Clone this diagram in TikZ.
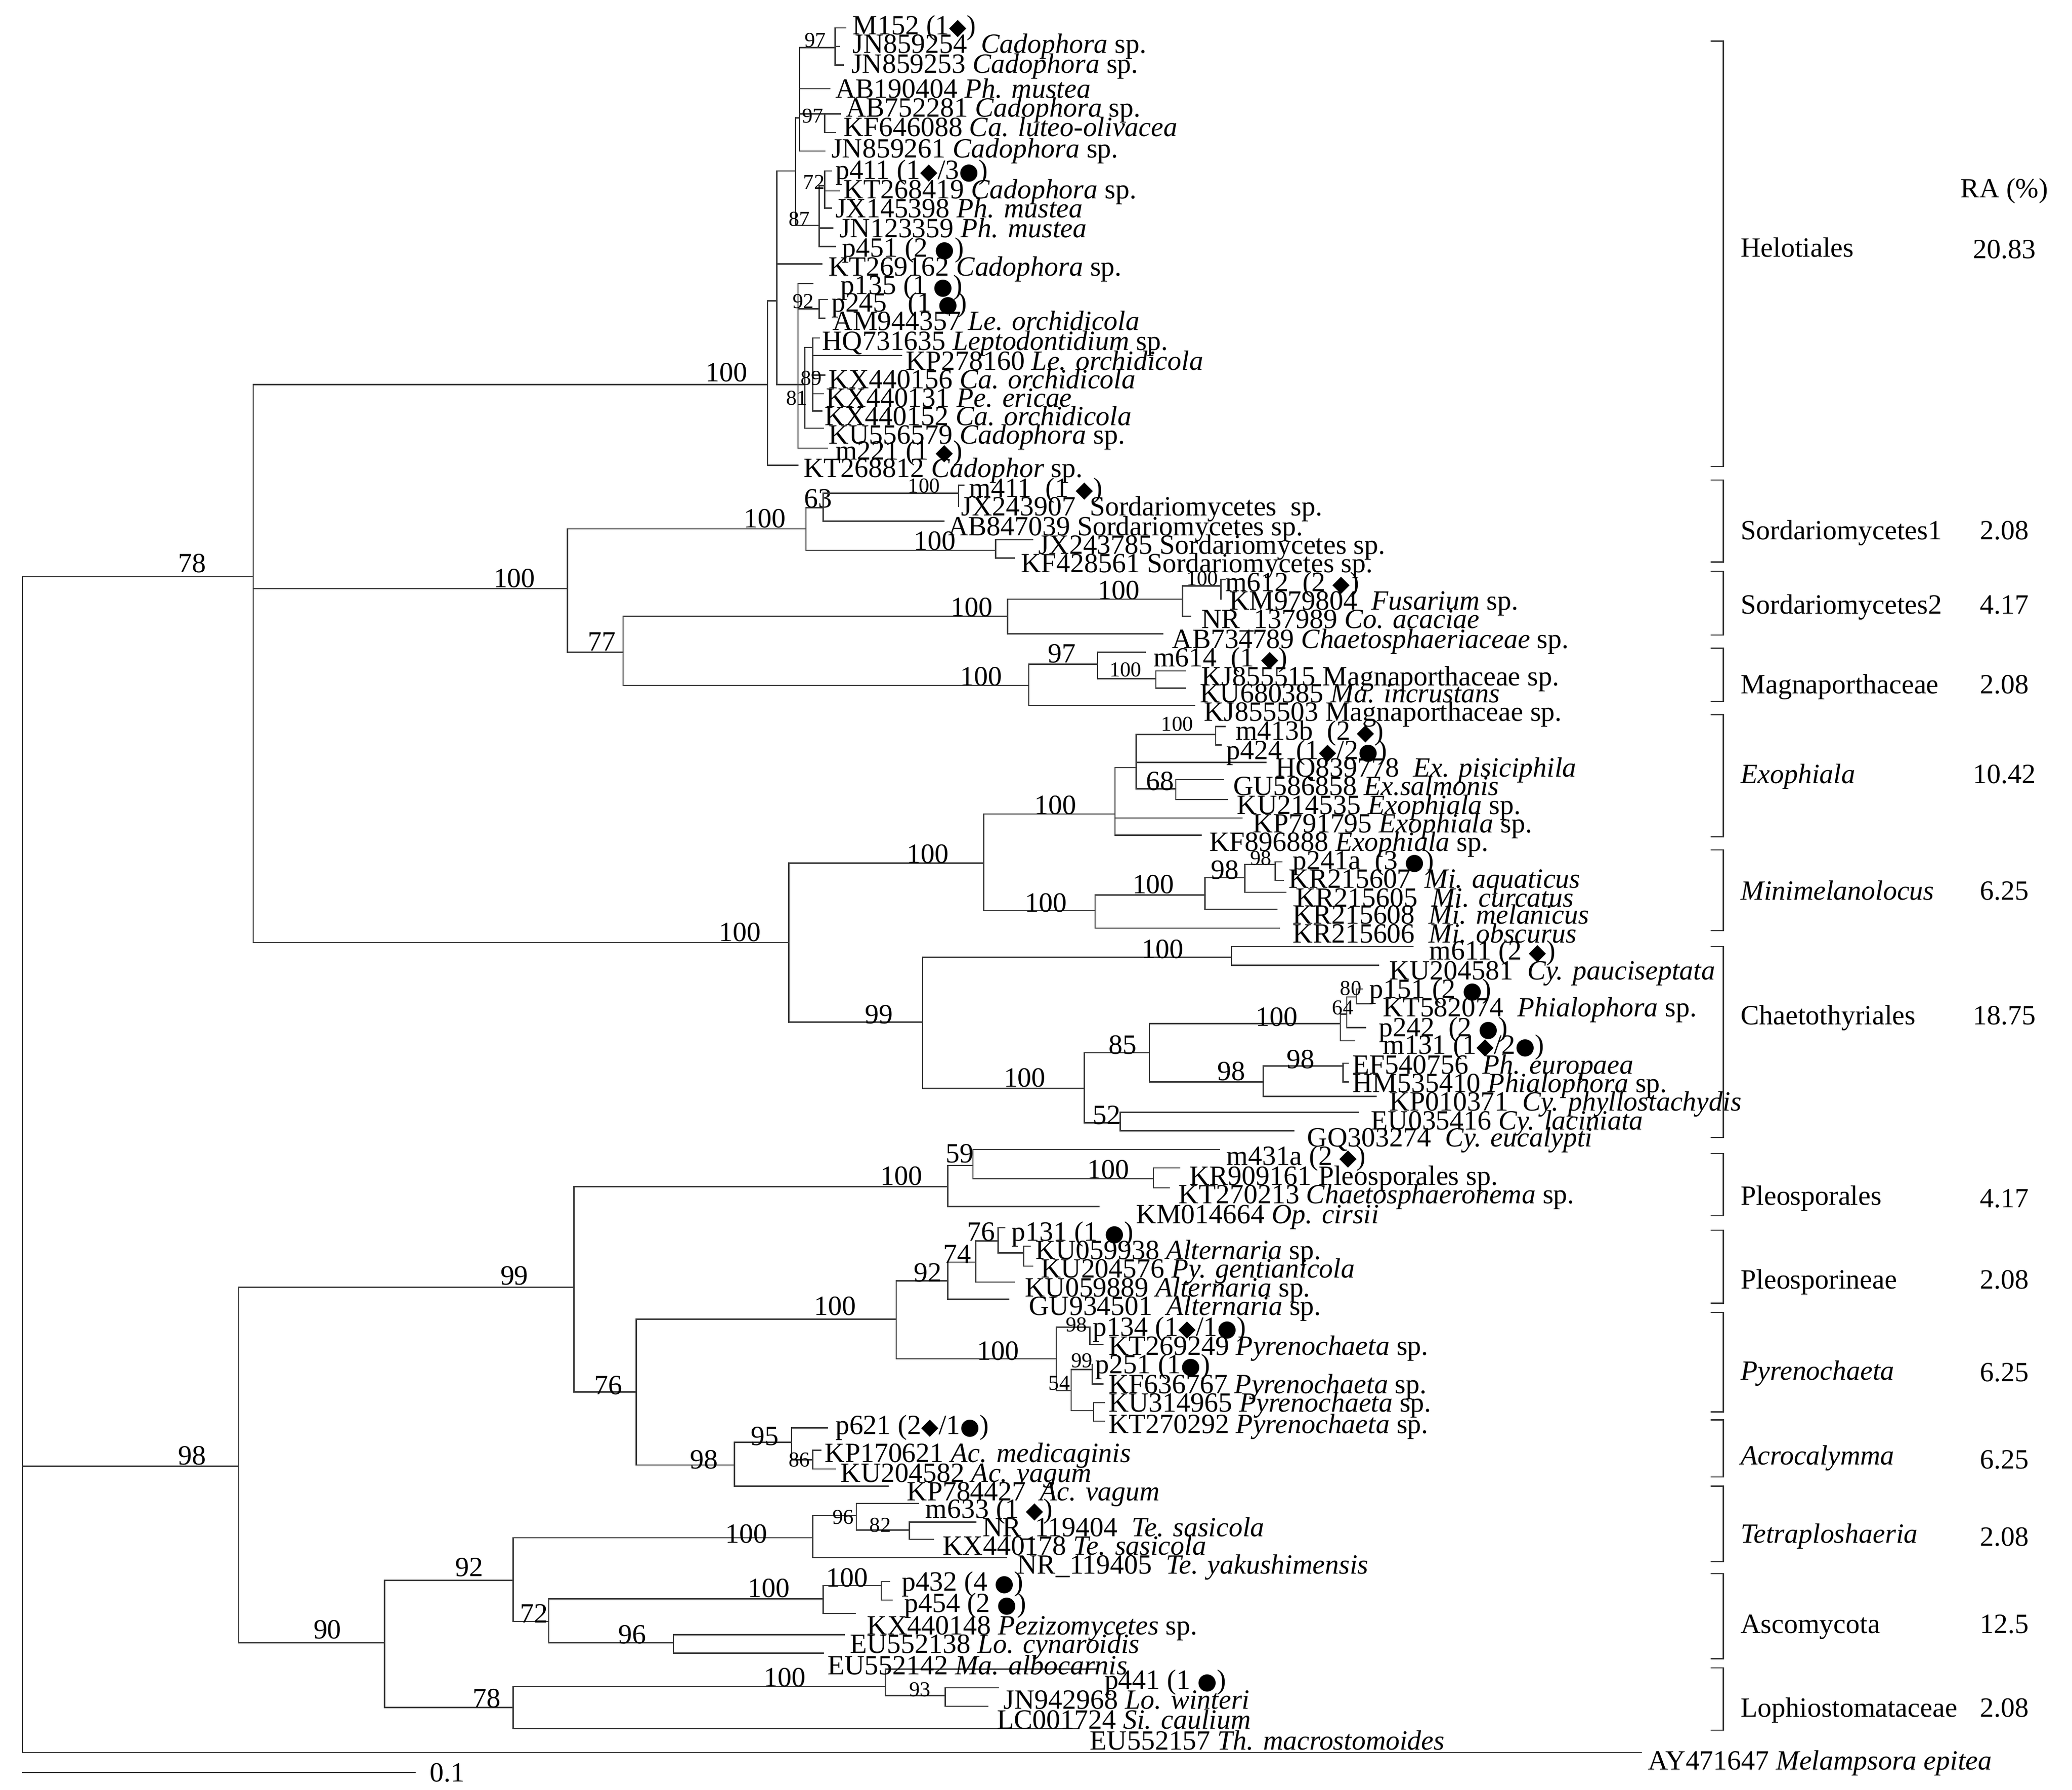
\documentclass[tikz,border=0pt]{standalone}
\usepackage{fontspec}
\setmainfont{Liberation Serif}
\newfontfamily\symf{DejaVu Sans}
\newcommand\fsz{\fontsize{21}{25}\selectfont}
\newcommand\fsm{\fontsize{16}{19}\selectfont}
\newcommand\mydm{{\symf\fontsize{17}{17}\selectfont ◆}}
\newcommand\mycc{{\symf\fontsize{17}{17}\selectfont ●}}
\tikzset{
  br/.style={draw=black!78, line width=0.95pt, line cap=rect},
  tip/.style={anchor=base west, inner sep=0pt, font=\fsz},
  bsn/.style={anchor=base, inner sep=0pt, font=\fsz},
  bsm/.style={anchor=base, inner sep=0pt, font=\fsm},
  grp/.style={anchor=base west, inner sep=0pt, font=\fsz},
  rav/.style={anchor=base, inner sep=0pt, font=\fsz},
}
\newcommand{\hb}[3]{\draw[br] (#1,#3) -- (#2,#3);}
\newcommand{\vb}[3]{\draw[br] (#1,#2) -- (#1,#3);}
\newcommand{\tl}[3]{\node[tip] at (#1,#2+7) {#3};}
\newcommand{\bs}[3]{\node[bsn] at (#1,#2+7) {#3};}
\newcommand{\bsx}[3]{\node[bsm] at (#1,#2+5.5) {#3};}
\newcommand{\brk}[2]{\draw[br] (1291,#1) -- (1300,#1) -- (1300,#2) -- (1291,#2);}
\begin{document}
\begin{tikzpicture}[x=1pt,y=-1pt]
\useasboundingbox[fill=white] (0,0) rectangle (1563,1350);
% ---------- root ----------
\vb{17}{435}{1322}
\hb{17}{191}{435} \bs{145}{425}{78}
\vb{191}{290}{711}
\hb{191}{579}{290} \bs{548}{281}{100}
\hb{191}{428}{444} \bs{388}{436}{100}
\hb{191}{595}{711} \bs{558}{703}{100}
% ---------- Helotiales ----------
\vb{579}{227}{351}
\hb{579}{586}{227}
\hb{579}{602}{351}
\vb{586}{129}{290}
\hb{586}{600}{129}
\hb{586}{620}{199}
\hb{586}{602}{290}
\vb{600}{89}{170}
\hb{600}{603}{89}
\hb{600}{618}{170} \bsx{603}{165}{87}
\vb{603}{36}{114}
\hb{603}{630}{36} \bsx{615}{30}{97}
\vb{630}{21}{49}
\hb{630}{638}{21} \hb{630}{633}{35} \hb{630}{636}{49}
\hb{603}{626}{67}
\hb{603}{634}{86} \bsx{613}{87}{97}
\vb{622}{86}{100} \hb{622}{630}{100}
\hb{603}{622}{114}
\vb{618}{140}{186}
\hb{618}{622}{140} \bsx{614}{137}{72}
\vb{622}{129}{157}
\hb{622}{627}{129} \hb{622}{633}{144} \hb{622}{627}{157}
\hb{618}{628}{172}
\hb{618}{630}{186}
\vb{602}{214}{338}
\hb{602}{613}{214}
\hb{602}{618}{233} \bsx{606}{227}{92}
\vb{618}{226}{240} \hb{618}{624}{226} \hb{618}{622}{240}
\hb{602}{607}{290}
\vb{607}{262}{323}
\hb{607}{613}{262}
\vb{613}{255}{310}
\hb{613}{618}{255} \hb{613}{680}{268} \hb{613}{622}{283} \hb{613}{621}{297} \hb{613}{620}{310}
\bsx{612}{285}{89} \bsx{601}{300}{81}
\hb{607}{621}{323}
\hb{602}{624}{338}
% ---------- Sordariomycetes / Magnaporthaceae ----------
\vb{428}{399}{492}
\hb{428}{608}{399} \bs{577}{391}{100}
\vb{608}{383}{415}
\hb{608}{621}{383} \bs{617}{376}{63}
\vb{621}{372}{393}
\hb{621}{723}{372} \bsx{697}{366}{100}
\vb{723}{366}{382} \hb{723}{727}{366}
\hb{621}{712}{393}
\hb{608}{751}{415} \bs{705}{408}{100}
\vb{751}{407}{421}
\hb{751}{779}{407} \hb{751}{765}{421}
\hb{428}{470}{492} \bs{454}{484}{77}
\vb{470}{465}{517}
\hb{470}{760}{465} \bs{733}{458}{100}
\vb{760}{452}{478}
\hb{760}{892}{452} \bs{844}{445}{100}
\vb{892}{442}{465}
\hb{892}{921}{442} \bsx{907}{436}{100}
\vb{921}{437}{452} \hb{921}{924}{437}
\hb{892}{898}{465}
\hb{760}{877}{478}
\hb{470}{776}{517} \bs{740}{510}{100}
\vb{776}{501}{532}
\hb{776}{828}{501} \bs{801}{493}{97}
\vb{828}{492}{512}
\hb{828}{864}{492}
\hb{828}{872}{512} \bsx{849}{505}{100}
\vb{872}{506}{519}
\hb{872}{894}{506} \hb{872}{894}{519}
\hb{776}{901}{532}
% ---------- Exophiala / Minimelanolocus / Chaetothyriales ----------
\vb{595}{651}{771}
\hb{595}{742}{651} \bs{700}{644}{100}
\vb{742}{614}{687}
\hb{742}{841}{614} \bs{796}{607}{100}
\vb{841}{579}{630}
\hb{841}{857}{579}
\vb{857}{554}{595}
\hb{857}{917}{554} \bsx{888}{546}{100}
\vb{917}{548}{562} \hb{917}{924}{548} \hb{917}{921}{562}
\hb{857}{955}{575}
\hb{857}{887}{595} \bs{875}{589}{68}
\vb{887}{588}{603}
\hb{887}{923}{588} \hb{887}{926}{603}
\hb{841}{937}{617}
\hb{841}{906}{630}
\hb{742}{826}{687} \bs{789}{681}{100}
\vb{826}{675}{700}
\hb{826}{909}{675} \bs{870}{667}{100}
\vb{909}{662}{686}
\hb{909}{939}{662} \bs{924}{656}{98}
\vb{939}{652}{673}
\hb{939}{962}{652} \bsx{951}{647}{98}
\vb{962}{650}{664} \hb{962}{967}{650} \hb{962}{968}{664}
\hb{939}{970}{673}
\hb{909}{963}{686}
\hb{826}{965}{700}
\hb{595}{696}{771} \bs{663}{765}{99}
\vb{696}{722}{821}
\hb{696}{929}{722} \bs{877}{716}{100}
\vb{929}{714}{728}
\hb{929}{1066}{714} \hb{929}{1040}{728}
\hb{696}{818}{821} \bs{773}{813}{100}
\vb{818}{794}{847}
\hb{818}{867}{794} \bs{847}{788}{85}
\vb{867}{772}{816}
\hb{867}{1011}{772} \bs{963}{767}{100}
\vb{1011}{765}{785}
\hb{1011}{1016}{765}
\vb{1016}{752}{775} \bsx{1013}{760}{64}
\hb{1016}{1023}{752}
\vb{1023}{746}{757} \bsx{1019}{745}{80}
\hb{1023}{1028}{746} \hb{1023}{1035}{757}
\hb{1016}{1030}{775}
\hb{1011}{1022}{785}
\hb{867}{953}{816} \bs{929}{808}{98}
\vb{953}{804}{827}
\hb{953}{1013}{804} \bs{981}{799}{98}
\vb{1013}{802}{816} \hb{1013}{1017}{802} \hb{1013}{1017}{816}
\hb{953}{1038}{827}
\hb{818}{845}{847} \bs{835}{841}{52}
\vb{845}{839}{853}
\hb{845}{1025}{839} \hb{845}{976}{853}
% ---------- lower clade ----------
\hb{17}{180}{1106} \bs{145}{1098}{98}
\vb{180}{971}{1239}
\hb{180}{433}{971} \bs{388}{962}{99}
\vb{433}{895}{1050}
\hb{433}{715}{895} \bs{680}{887}{100}
\vb{715}{879}{910}
\hb{715}{734}{879} \bs{724}{870}{59}
\vb{734}{867}{889}
\hb{734}{920}{867}
\hb{734}{870}{889} \bs{836}{882}{100}
\vb{870}{881}{896}
\hb{870}{890}{881} \hb{870}{882}{896}
\hb{715}{829}{910}
\hb{433}{480}{1050} \bs{459}{1045}{76}
\vb{480}{995}{1105}
\hb{480}{676}{995} \bs{630}{985}{100}
\vb{676}{966}{1025}
\hb{676}{715}{966} \bs{700}{960}{92}
\vb{715}{952}{980}
\hb{715}{736}{952} \bs{722}{946}{74}
\vb{736}{936}{967}
\hb{736}{753}{936} \bs{740}{929}{76}
\vb{753}{926}{945}
\hb{753}{758}{926}
\hb{753}{772}{945}
\vb{772}{940}{955} \hb{772}{777}{940} \hb{772}{779}{955}
\hb{736}{765}{967}
\hb{715}{761}{980}
\hb{676}{797}{1025} \bs{753}{1019}{100}
\vb{797}{1001}{1049}
\hb{797}{822}{1001} \bsx{812}{999}{98}
\vb{822}{1001}{1014} \hb{822}{832}{1014}
\hb{797}{808}{1049} \bsx{799}{1043}{54}
\vb{808}{1033}{1064}
\hb{808}{824}{1033} \bsx{816}{1026}{99}
\vb{824}{1029}{1044} \hb{824}{832}{1044}
\hb{808}{825}{1064}
\vb{825}{1058}{1072} \hb{825}{833}{1058} \hb{825}{833}{1072}
\hb{480}{554}{1105} \bs{531}{1101}{98}
\vb{554}{1088}{1121}
\hb{554}{597}{1088} \bs{577}{1083}{95}
\vb{597}{1077}{1101}
\hb{597}{624}{1077}
\hb{597}{613}{1101} \bsx{603}{1101}{86}
\vb{613}{1094}{1108} \hb{613}{619}{1094} \hb{613}{630}{1108}
\hb{554}{670}{1121}
\hb{180}{290}{1239} \bs{247}{1229}{90}
\vb{290}{1192}{1288}
\hb{290}{387}{1192} \bs{354}{1182}{92}
\vb{387}{1160}{1223}
\hb{387}{613}{1160} \bs{563}{1157}{100}
\vb{613}{1143}{1175}
\hb{613}{646}{1143} \bsx{636}{1144}{96}
\vb{646}{1134}{1154}
\hb{646}{693}{1134}
\hb{646}{686}{1154} \bsx{664}{1150}{82}
\vb{686}{1148}{1161}
\hb{686}{736}{1148} \hb{686}{704}{1161}
\hb{613}{759}{1175}
\hb{387}{414}{1223} \bs{403}{1217}{72}
\vb{414}{1206}{1239}
\hb{414}{621}{1206} \bs{580}{1198}{100}
\vb{621}{1196}{1217}
\hb{621}{665}{1196} \bs{639}{1190}{100}
\vb{665}{1193}{1207} \hb{665}{671}{1193} \hb{665}{673}{1207}
\hb{621}{645}{1217}
\hb{414}{508}{1239} \bs{477}{1233}{96}
\vb{508}{1233}{1247}
\hb{508}{637}{1233} \hb{508}{621}{1247}
\hb{290}{387}{1288} \bs{367}{1281}{78}
\vb{387}{1272}{1304}
\hb{387}{668}{1272} \bs{592}{1265}{100}
\vb{668}{1259}{1279}
\hb{668}{828}{1259}
\hb{668}{713}{1279} \bsx{694}{1274}{93}
\vb{713}{1273}{1287}
\hb{713}{753}{1273} \hb{713}{745}{1287}
\hb{387}{814}{1304}
% outgroup and scale
\hb{17}{1238}{1322}
\hb{17}{313}{1337}
\node[tip] at (324,1344) {0.1};
% ---------- tip labels ----------
\tl{643}{19}{M152 (1\mydm)}
\tl{643}{33}{JN859254\ \ \textit{Cadophora} sp.}
\tl{642}{48}{JN859253 \textit{Cadophora} sp.}
\tl{630}{67}{AB190404 \textit{Ph. mustea}}
\tl{638}{81}{AB752281 \textit{Cadophora} sp.}
\tl{636}{96}{KF646088 \textit{Ca. luteo-olivacea}}
\tl{627}{112}{JN859261 \textit{Cadophora} sp.}
\tl{630}{128}{p411 (1\mydm/3\mycc)}
\tl{636}{143}{KT268419 \textit{Cadophora} sp.}
\tl{630}{157}{JX145398 \textit{Ph. mustea}}
\tl{633}{172}{JN123359 \textit{Ph. mustea}}
\tl{635}{187}{p451 (2 \mycc)}
\tl{625}{201}{KT269162 \textit{Cadophora} sp.}
\tl{634}{215}{p135 (1 \mycc)}
\tl{627}{228}{p245\ \ \ (1 \mycc)}
\tl{628}{242}{AM944357 \textit{Le. orchidicola}}
\tl{620}{257}{HQ731635 \textit{Leptodontidium} sp.}
\tl{683}{272}{KP278160 \textit{Le. orchidicola}}
\tl{625}{286}{KX440156 \textit{Ca. orchidicola}}
\tl{623}{300}{KX440131 \textit{Pe. ericae}}
\tl{622}{314}{KX440152 \textit{Ca. orchidicola}}
\tl{625}{328}{KU556579 \textit{Cadophora} sp.}
\tl{630}{340}{m221 (1 \mydm)}
\tl{606}{353}{KT268812 \textit{Cadophor} sp.}
\tl{731}{368}{m411\ \ (1 \mydm)}
\tl{725}{382}{JX243907\ \ Sordariomycetes\ \ sp.}
\tl{715}{397}{AB847039 Sordariomycetes sp.}
\tl{783}{411}{JX243785 Sordariomycetes sp.}
\tl{770}{425}{KF428561 Sordariomycetes sp.}
\tl{924}{439}{m612\ \ (2 \mydm)}
\tl{927}{453}{KM979804\ \ \textit{Fusarium} sp.}
\tl{906}{467}{NR\_137989 \textit{Co. acaciae}}
\tl{884}{482}{AB734789 \textit{Chaetosphaeriaceae} sp.}
\tl{870}{496}{m614\ \ (1 \mydm)}
\tl{906}{510}{KJ855515 Magnaporthaceae sp.}
\tl{905}{523}{KU680385 \textit{Ma. incrustans}}
\tl{908}{537}{KJ855503 Magnaporthaceae sp.}
\tl{932}{551}{m413b\ \ (2 \mydm)}
\tl{925}{566}{p424\ \ (1\mydm/2\mycc)}
\tl{962}{579}{HQ839778\ \ \textit{Ex. pisiciphila}}
\tl{930}{593}{GU586858 \textit{Ex.salmonis}}
\tl{933}{607}{KU214535 \textit{Exophiala} sp.}
\tl{945}{621}{KP791795 \textit{Exophiala} sp.}
\tl{912}{635}{KF896888 \textit{Exophiala} sp.}
\tl{975}{649}{p241a\ \ (3 \mycc)}
\tl{972}{663}{KR215607\ \ \textit{Mi. aquaticus}}
\tl{977}{677}{KR215605\ \ \textit{Mi. curcatus}}
\tl{975}{690}{KR215608\ \ \textit{Mi. melanicus}}
\tl{975}{704}{KR215606\ \ \textit{Mi. obscurus}}
\tl{1078}{717}{m611 (2 \mydm)}
\tl{1048}{732}{KU204581\ \ \textit{Cy. pauciseptata}}
\tl{1033}{746}{p151 (2 \mycc)}
\tl{1043}{760}{KT582074\ \ \textit{Phialophora} sp.}
\tl{1040}{775}{p242\ \ (2 \mycc)}
\tl{1043}{788}{m131 (1\mydm/2\mycc)}
\tl{1020}{803}{EF540756\ \ \textit{Ph. europaea}}
\tl{1020}{817}{HM535410 \textit{Phialophora} sp.}
\tl{1048}{831}{KP010371\ \ \textit{Cy. phyllostachydis}}
\tl{1034}{845}{EU035416 \textit{Cy. laciniata}}
\tl{986}{858}{GQ303274\ \ \textit{Cy. eucalypti}}
\tl{925}{872}{m431a (2 \mydm)}
\tl{897}{887}{KR909161 Pleosporales sp.}
\tl{889}{901}{KT270213 \textit{Chaetosphaeronema} sp.}
\tl{857}{916}{KM014664 \textit{Op. cirsii}}
\tl{763}{929}{p131 (1 \mycc)}
\tl{781}{943}{KU059938 \textit{Alternaria} sp.}
\tl{785}{957}{KU204576 \textit{Py. gentianicola}}
\tl{773}{971}{KU059889 \textit{Alternaria} sp.}
\tl{776}{985}{GU934501\ \ \textit{Alternaria} sp.}
\tl{824}{1001}{p134 (1\mydm/1\mycc)}
\tl{836}{1015}{KT269249 \textit{Pyrenochaeta} sp.}
\tl{826}{1029}{p251 (1\mycc)}
\tl{836}{1044}{KF636767 \textit{Pyrenochaeta} sp.}
\tl{836}{1058}{KU314965 \textit{Pyrenochaeta} sp.}
\tl{836}{1074}{KT270292 \textit{Pyrenochaeta} sp.}
\tl{630}{1075}{p621 (2\mydm/1\mycc)}
\tl{622}{1096}{KP170621 \textit{Ac. medicaginis}}
\tl{634}{1111}{KU204582 \textit{Ac. vagum}}
\tl{684}{1125}{KP784427\ \ \textit{Ac. vagum}}
\tl{698}{1138}{m633 (1 \mydm)}
\tl{741}{1152}{NR\_119404\ \ \textit{Te. sasicola}}
\tl{711}{1166}{KX440178 \textit{Te. sasicola}}
\tl{767}{1180}{NR\_119405\ \ \textit{Te. yakushimensis}}
\tl{680}{1193}{p432 (4 \mycc)}
\tl{682}{1209}{p454 (2 \mycc)}
\tl{654}{1226}{KX440148 \textit{Pezizomycetes} sp.}
\tl{641}{1240}{EU552138 \textit{Lo. cynaroidis}}
\tl{624}{1256}{EU552142 \textit{Ma. albocarnis}}
\tl{833}{1267}{p441 (1 \mycc)}
\tl{757}{1282}{JN942968 \textit{Lo. winteri}}
\tl{752}{1297}{LC001724 \textit{Si. caulium}}
\tl{822}{1313}{EU552157 \textit{Th. macrostomoides}}
\tl{1243}{1328}{AY471647 \textit{Melampsora epitea}}
% ---------- brackets and groups ----------
\brk{31}{352}
\brk{362}{424}
\brk{431}{479}
\brk{489}{529}
\brk{539}{631}
\brk{641}{702}
\brk{714}{858}
\brk{870}{917}
\brk{928}{983}
\brk{990}{1065}
\brk{1071}{1114}
\brk{1121}{1178}
\brk{1187}{1251}
\brk{1258}{1305}
\node[grp] at (1313,194) {Helotiales};
\node[grp] at (1313,407) {Sordariomycetes1};
\node[grp] at (1313,463) {Sordariomycetes2};
\node[grp] at (1313,523) {Magnaporthaceae};
\node[grp] at (1313,591) {\textit{Exophiala}};
\node[grp] at (1313,679) {\textit{Minimelanolocus}};
\node[grp] at (1313,773) {Chaetothyriales};
\node[grp] at (1313,909) {Pleosporales};
\node[grp] at (1313,972) {Pleosporineae};
\node[grp] at (1313,1041) {\textit{Pyrenochaeta}};
\node[grp] at (1313,1105) {\textit{Acrocalymma}};
\node[grp] at (1313,1164) {\textit{Tetraploshaeria}};
\node[grp] at (1313,1232) {Ascomycota};
\node[grp] at (1313,1295) {Lophiostomataceae};
\node[rav] at (1512,149) {RA (\%)};
\node[rav] at (1512,195) {20.83};
\node[rav] at (1512,407) {2.08};
\node[rav] at (1512,463) {4.17};
\node[rav] at (1512,523) {2.08};
\node[rav] at (1512,591) {10.42};
\node[rav] at (1512,679) {6.25};
\node[rav] at (1512,773) {18.75};
\node[rav] at (1512,911) {4.17};
\node[rav] at (1512,972) {2.08};
\node[rav] at (1512,1042) {6.25};
\node[rav] at (1512,1108) {6.25};
\node[rav] at (1512,1166) {2.08};
\node[rav] at (1512,1232) {12.5};
\node[rav] at (1512,1295) {2.08};
\end{tikzpicture}
\end{document}
